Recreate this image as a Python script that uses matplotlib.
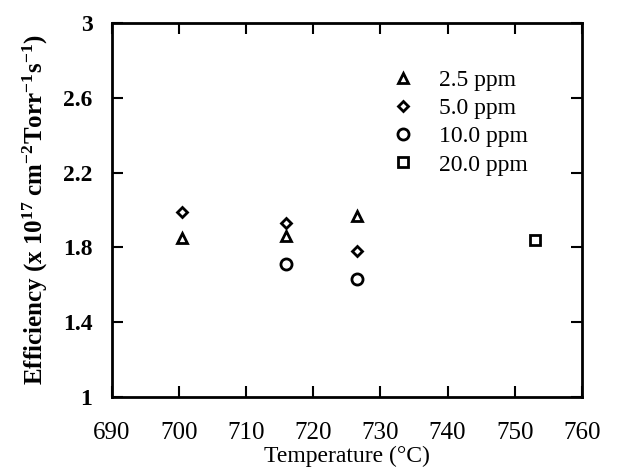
import matplotlib
matplotlib.use("Agg")
import matplotlib.pyplot as plt

# values
temp_25 = [700.5, 716, 726.5]
eff_25 = [1.85, 1.86, 1.97]
temp_50 = [700.5, 716, 726.5]
eff_50 = [1.99, 1.93, 1.78]
temp_100 = [716, 726.5]
eff_100 = [1.71, 1.63]
temp_200 = [753]
eff_200 = [1.84]

series = [
    (temp_25, eff_25, "^", 7, "2.5 ppm"),
    (temp_50, eff_50, "D", 5, "5.0 ppm"),
    (temp_100, eff_100, "o", 8, "10.0 ppm"),
    (temp_200, eff_200, "s", 7, "20.0 ppm"),
]

x_ticks = [690, 700, 710, 720, 730, 740, 750, 760]
y_ticks = [1, 1.4, 1.8, 2.2, 2.6, 3]
y_tick_labels = ["1", "1.4", "1.8", "2.2", "2.6", "3"]

plt.rcParams["font.family"] = ["Liberation Serif", "DejaVu Serif"]
plt.rcParams["mathtext.fontset"] = "custom"
plt.rcParams["mathtext.rm"] = "Liberation Serif:bold"
plt.rcParams["mathtext.it"] = "Liberation Serif:bold"
plt.rcParams["mathtext.bf"] = "Liberation Serif:bold"

fig = plt.figure(figsize=(6.25, 4.75), dpi=100)
ax = fig.add_axes([0.179, 0.164, 0.752, 0.788])

for x, y, m, ms, lab in series:
    ax.plot(x, y, linestyle="none", marker=m, markersize=ms, markerfacecolor="none",
            markeredgecolor="black", markeredgewidth=2, label=lab)

ax.set_xlim(690, 760)
ax.set_ylim(1, 3)
ax.set_xticks(x_ticks)
ax.set_yticks(y_ticks)
ax.set_yticklabels(y_tick_labels, fontweight="bold")
ax.tick_params(axis="both", direction="in", length=8, width=1.5, top=True, right=True)
ax.tick_params(axis="x", pad=18, labelsize=18)
ax.tick_params(axis="y", pad=14, labelsize=17)
for s in ax.spines.values():
    s.set_linewidth(2)

ax.set_xlabel("Temperature (°C)", fontsize=17, labelpad=1)
ax.set_ylabel(r"Efficiency (x 10$^{17}$ cm$^{-2}$Torr$^{-1}$s$^{-1}$)", fontsize=18,
              fontweight="bold", labelpad=9)

ax.legend(loc="upper left", bbox_to_anchor=(0.575, 0.90), frameon=False, fontsize=17,
          handletextpad=1.0, labelspacing=0.28, handlelength=1.0, borderaxespad=0)

fig.savefig("out.png", dpi=100)
